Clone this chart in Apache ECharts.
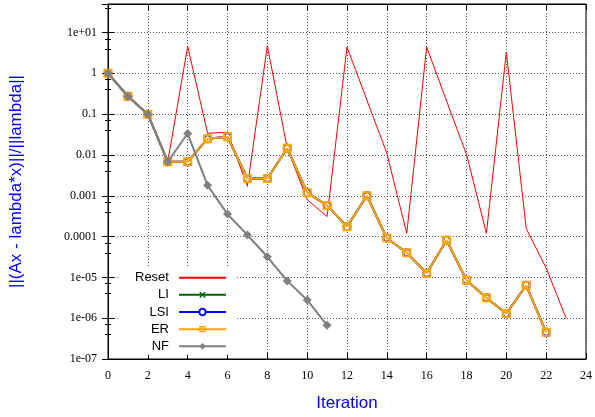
<!DOCTYPE html>
<html><head><meta charset="utf-8">
<script src="https://cdn.jsdelivr.net/npm/echarts@6/dist/echarts.min.js"></script>
<style>html,body{margin:0;padding:0;background:#fff}#c{width:595px;height:417px}</style>
</head><body><div id="c"></div>
<script>
const iterReset = [0,1,2,3,4,5,6,7,8,9,10,11,12,13,14,15,16,17,18,19,20,21,22,23];
const resetVals = [1,0.28,0.1,0.0068,4.6,0.034,0.036,0.0017,4.7,0.0146,0.0008,0.00031,4.4,0.22,0.011,0.00012,4.4,0.21,0.0103,0.00012,3.3,0.000156,1.7e-5,1e-6];
const iterMain = [0,1,2,3,4,5,6,7,8,9,10,11,12,13,14,15,16,17,18,19,20,21,22];
const erVals = [1,0.274,0.1,0.0068,0.0068,0.025,0.028,0.00265,0.00265,0.0146,0.00119,0.00058,0.000175,0.001,9.2e-5,4.0e-5,1.26e-5,8.1e-5,8.5e-6,3.15e-6,1.3e-6,6.4e-6,4.5e-7];
const liVals = erVals.slice();
const lsiVals = erVals.slice();
const iterNF = [0,1,2,3,4,5,6,7,8,9,10,11];
const nfVals = [1,0.274,0.1,0.0068,0.0335,0.0018,0.000356,0.000109,3.2e-5,8.2e-6,2.8e-6,6.7e-7];
const yTickLabels = ['1e-07','1e-06','1e-05','0.0001','0.001','0.01','0.1','1','1e+01'];
const seriesNames = ['Reset','LI','LSI','ER','NF'];

function pairs(xs, ys){ return xs.map((x,i)=>[x, ys[i]]); }
function yFmt(v){
  const e = Math.log10(v);
  const r = Math.round(e);
  if (Math.abs(e - r) > 1e-6) return '';
  const lab = yTickLabels[r + 7];
  return lab === undefined ? '' : lab;
}
const serif = '"Liberation Serif", "DejaVu Serif", serif';
const sans = '"Liberation Sans", Arial, sans-serif';
const gridLine = {show:true, lineStyle:{color:'#555', type:[1,2], width:1}};
const XSYM = 'path://M0,1.6L1.6,0L5,3.4L8.4,0L10,1.6L6.6,5L10,8.4L8.4,10L5,6.6L1.6,10L0,8.4L3.4,5Z';
const SQSYM = 'path://M0,0L10,0L10,10L0,10Z M2.4,2.4L2.4,7.6L7.6,7.6L7.6,2.4Z';

const legendData = seriesNames.map(n => n === 'Reset' ? {name:n, itemStyle:{opacity:0}} : {name:n});

const chart = echarts.init(document.getElementById('c'), null, {renderer:'canvas'});
chart.setOption({
  animation:false,
  backgroundColor:'#fff',
  grid:{left:108, right:7, top:4, bottom:57, show:true, borderColor:'#000', borderWidth:1},
  legend:{
    orient:'vertical', left:118, top:268, align:'right',
    padding:[3.2,10,2,17], backgroundColor:'#fff',
    itemWidth:47, itemHeight:8, itemGap:4.15,
    textStyle:{fontFamily:sans, fontSize:13, color:'#000', width:40, align:'right', padding:[0,5,0,0]},
    data:legendData
  },
  xAxis:[{
    type:'value', min:0, max:24, interval:2, position:'bottom',
    name:'Iteration', nameLocation:'middle', nameGap:36,
    nameTextStyle:{fontFamily:sans, fontSize:17, color:'#0000ff'},
    axisLine:{lineStyle:{color:'#000', width:1}},
    axisTick:{inside:true, length:6, lineStyle:{color:'#000'}},
    axisLabel:{fontFamily:serif, fontSize:12, color:'#000', margin:11},
    splitLine:gridLine
  },{
    type:'value', min:0, max:24, interval:2, position:'top',
    axisLine:{lineStyle:{color:'#000'}},
    axisTick:{inside:true, length:6, lineStyle:{color:'#000'}},
    axisLabel:{show:false}, splitLine:{show:false}
  }],
  yAxis:[{
    type:'log', logBase:10, min:1e-7, max:50, position:'left',
    name:'||(Ax - lambda*x)||/||lambda||', nameLocation:'middle', nameGap:83,
    nameTextStyle:{fontFamily:sans, fontSize:17, color:'#0000ff'},
    axisLine:{show:true, lineStyle:{color:'#000', width:1}},
    axisTick:{inside:true, length:6, lineStyle:{color:'#000'}},
    minorTick:{show:true, splitNumber:3, length:3, lineStyle:{color:'#000'}},
    axisLabel:{fontFamily:serif, fontSize:12, color:'#000', margin:11, formatter:yFmt},
    splitLine:gridLine
  },{
    type:'log', logBase:10, min:1e-7, max:50, position:'right',
    axisLine:{show:true, lineStyle:{color:'#000'}},
    axisTick:{inside:true, length:6, lineStyle:{color:'#000'}},
    minorTick:{show:true, splitNumber:3, length:3, lineStyle:{color:'#000'}},
    axisLabel:{show:false}, splitLine:{show:false}
  }],
  series:[
    {name:'Reset', type:'line', data:pairs(iterReset, resetVals), symbol:'none',
     lineStyle:{color:'#ff0000', width:1}, itemStyle:{color:'#ff0000'}, z:2},
    {name:'LI', type:'line', data:pairs(iterMain, liVals), symbol:XSYM, symbolSize:7,
     lineStyle:{color:'#006400', width:2}, itemStyle:{color:'#006400'}, z:3},
    {name:'LSI', type:'line', data:pairs(iterMain, lsiVals), symbol:'emptyCircle', symbolSize:7,
     lineStyle:{color:'#0000ff', width:2}, itemStyle:{color:'#0000ff', borderWidth:1.5}, z:4},
    {name:'ER', type:'line', data:pairs(iterMain, erVals), symbol:SQSYM, symbolSize:9,
     lineStyle:{color:'#ffa500', width:2}, itemStyle:{color:'#ffa500'}, z:5},
    {name:'NF', type:'line', data:pairs(iterNF, nfVals), symbol:'diamond', symbolSize:9,
     lineStyle:{color:'#808080', width:2}, itemStyle:{color:'#808080'}, z:6}
  ]
});
</script></body></html>
